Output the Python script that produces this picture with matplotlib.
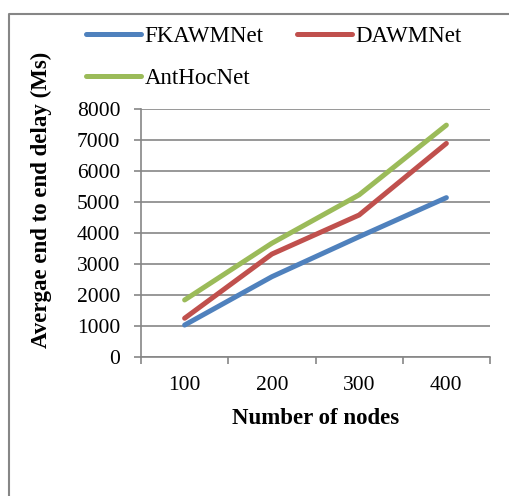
import numpy as np
import matplotlib.pyplot as plt
from matplotlib.lines import Line2D

# DATA
nodes = ["100", "200", "300", "400"]
fkawmnet = [1030, 2590, 3880, 5140]
dawmnet = [1250, 3320, 4580, 6890]
anthocnet = [1840, 3670, 5230, 7480]

plt.rcParams['font.family'] = ['Liberation Serif', 'DejaVu Serif']

fig = plt.figure(figsize=(5.10, 4.96), dpi=100)
ax = fig.add_axes([141/510, 1-357/496, (490-141)/510, (357-109)/496])

x = np.arange(1, len(nodes) + 1)
l1, = ax.plot(x, fkawmnet, color='#4F81BD', lw=3.6, label='FKAWMNet', solid_capstyle='round')
l2, = ax.plot(x, dawmnet, color='#C0504D', lw=3.6, label='DAWMNet', solid_capstyle='round')
l3, = ax.plot(x, anthocnet, color='#9BBB59', lw=3.6, label='AntHocNet', solid_capstyle='round')

# AXES STYLE
ax.set_xlim(0.5, 4.5)
ax.set_ylim(0, 8000)
ax.set_yticks(np.arange(0, 8001, 1000))
ax.set_xticks(x)
ax.set_xticklabels(nodes)
ax.set_xticks(np.arange(0.5, 4.6, 1), minor=True)
ax.tick_params(axis='x', which='major', length=0, pad=14, labelsize=15.5)
ax.tick_params(axis='x', which='minor', length=5, width=1.2, color='#868686', direction='out')
ax.tick_params(axis='y', length=5, width=1.2, color='#868686', pad=10, labelsize=15.5)
ax.grid(axis='y', color='#868686', lw=1.2)
ax.set_axisbelow(True)
for s in ['top', 'right']:
    ax.spines[s].set_visible(False)
for s in ['left', 'bottom']:
    ax.spines[s].set_color('#868686')
    ax.spines[s].set_linewidth(1.2)

# LABELS
fig.text(316/510, 1-419/496, 'Number of nodes', ha='center', va='center', fontsize=16.5, fontweight='bold')
fig.text(41/510, 1-200/496, 'Avergae end to end delay (Ms)', ha='center', va='center',
         rotation=90, fontsize=16.5, fontweight='bold')

# LEGEND (order so rows read F, D / A)
ax.legend([l1, l3, l2], ['FKAWMNet', 'AntHocNet', 'DAWMNet'],
          loc='upper left', bbox_to_anchor=(86/510, 1-26/496), bbox_transform=fig.transFigure,
          ncol=2, frameon=False, fontsize=16.5, handlelength=2.4, handletextpad=0.15,
          columnspacing=1.45, labelspacing=0.9, borderpad=0, borderaxespad=0)

# OUTER BORDER
fig.add_artist(Line2D([9/510, 9/510, 1.0], [0.0, 1-14/496, 1-14/496], transform=fig.transFigure,
                      color='#868686', lw=1.5))

fig.savefig('out.png', dpi=100)
